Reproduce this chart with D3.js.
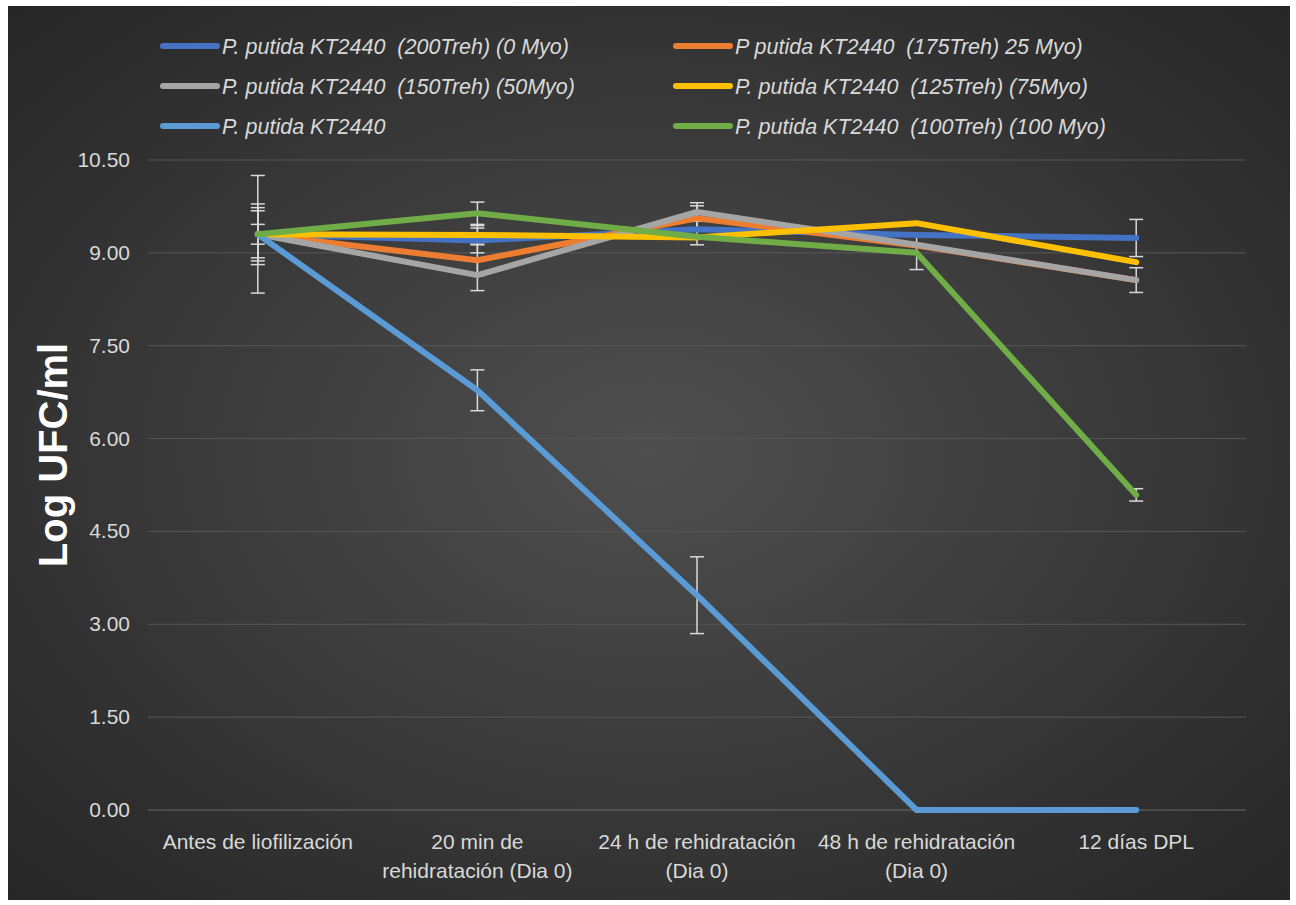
<!DOCTYPE html>
<html>
<head>
<meta charset="utf-8">
<script src="https://cdn.jsdelivr.net/npm/d3@7"></script>
<style>
  body { margin: 0; background: #fff; }
  svg text { font-family: "Liberation Sans", Arial, sans-serif; white-space: pre; }
</style>
</head>
<body>
<div id="chart"></div>
<script>
// categories on the x axis (each label split into lines)
var categories = ["Antes de liofilización", "20 min de rehidratación (Dia 0)", "24 h de rehidratación (Dia 0)", "48 h de rehidratación (Dia 0)", "12 días DPL"];
var catLines = [["Antes de liofilización"], ["20 min de", "rehidratación (Dia 0)"], ["24 h de rehidratación", "(Dia 0)"], ["48 h de rehidratación", "(Dia 0)"], ["12 días DPL"]];

var seriesNames = [
  "P. putida KT2440  (200Treh) (0 Myo)",
  "P putida KT2440  (175Treh) 25 Myo)",
  "P. putida KT2440  (150Treh) (50Myo)",
  "P. putida KT2440  (125Treh) (75Myo)",
  "P. putida KT2440",
  "P. putida KT2440  (100Treh) (100 Myo)"
];
var seriesColors = ["#4472C4", "#ED7D31", "#A5A5A5", "#FFC000", "#5B9BD5", "#70AD47"];

// values, log UFC/ml
var treh200 = [9.3, 9.2, 9.38, 9.29, 9.24];
var treh175 = [9.3, 8.88, 9.56, 9.12, 8.56];
var treh150 = [9.3, 8.64, 9.66, 9.13, 8.56];
var treh125 = [9.3, 9.29, 9.25, 9.48, 8.85];
var kt2440  = [9.3, 6.78, 3.47, 0, 0];
var treh100 = [9.3, 9.64, 9.26, 9.0, 5.09];

// error bar half widths
var err200 = [0.16, 0.2, 0.25, 0, 0.3];
var err175 = [0.38, 0.25, 0.2, 0, 0];
var err150 = [0.43, 0.25, 0.15, 0, 0.2];
var err125 = [0.49, 0.15, 0, 0, 0];
var errKT   = [0.95, 0.33, 0.62, 0, 0];
var err100 = [0, 0.18, 0, 0.27, 0.1];

var yTicks = [0, 1.5, 3, 4.5, 6, 7.5, 9, 10.5];

var allValues = [treh200, treh175, treh150, treh125, kt2440, treh100];
var allErrors = [err200, err175, err150, err125, errKT, err100];

var W = 1296, H = 905;
var svg = d3.select("#chart").append("svg")
  .attr("width", W).attr("height", H);

var defs = svg.append("defs");
var grad = defs.append("radialGradient").attr("id", "bg")
  .attr("cx", "50%").attr("cy", "50%").attr("r", "70%");
grad.append("stop").attr("offset", "0%").attr("stop-color", "#4f4f4f");
grad.append("stop").attr("offset", "100%").attr("stop-color", "#262626");

svg.append("rect").attr("x", 8).attr("y", 6).attr("width", 1282).attr("height", 894)
  .attr("fill", "url(#bg)");

var x = d3.scaleBand().domain(categories).range([148, 1246]);
var y = d3.scaleLinear().domain([0, 10.5]).range([810, 160]);

// grid
svg.append("g").selectAll("line").data(yTicks).join("line")
  .attr("x1", 148).attr("x2", 1246)
  .attr("y1", function(d){ return y(d); }).attr("y2", function(d){ return y(d); })
  .attr("stroke", function(d){ return d === 0 ? "#6a6a6a" : "#575757"; })
  .attr("stroke-width", 1);

// y tick labels
svg.append("g").selectAll("text").data(yTicks).join("text")
  .attr("x", 130).attr("y", function(d){ return y(d) + 7; })
  .attr("text-anchor", "end")
  .attr("fill", "#d9d9d9").attr("font-size", 21)
  .text(function(d){ return d.toFixed(2); });

// x labels
var xl = svg.append("g").selectAll("text").data(categories).join("text")
  .attr("x", function(d){ return x(d) + x.bandwidth() / 2; })
  .attr("y", 849)
  .attr("text-anchor", "middle")
  .attr("fill", "#d9d9d9").attr("font-size", 21);
xl.each(function(d, i){
  var t = d3.select(this);
  catLines[i].forEach(function(s, j){
    t.append("tspan").attr("x", x(d) + x.bandwidth() / 2).attr("dy", j === 0 ? 0 : 29).text(s);
  });
});

// y title
svg.append("text")
  .attr("transform", "translate(67,455) rotate(-90)")
  .attr("text-anchor", "middle")
  .attr("fill", "#ffffff").attr("font-size", 40).attr("font-weight", "bold")
  .text("Log UFC/ml");

// error bars
var eb = svg.append("g");
allValues.forEach(function(vals, s){
  vals.forEach(function(v, i){
    var e = allErrors[s][i];
    if (!e) return;
    var cx = x(categories[i]) + x.bandwidth() / 2;
    eb.append("line").attr("x1", cx).attr("x2", cx)
      .attr("y1", y(v + e)).attr("y2", y(v - e))
      .attr("stroke", "#d9d9d9").attr("stroke-width", 1.5);
    [v + e, v - e].forEach(function(c){
      eb.append("line").attr("x1", cx - 7).attr("x2", cx + 7)
        .attr("y1", y(c)).attr("y2", y(c))
        .attr("stroke", "#d9d9d9").attr("stroke-width", 1.5);
    });
  });
});

// lines
var line = d3.line()
  .x(function(d, i){ return x(categories[i]) + x.bandwidth() / 2; })
  .y(function(d){ return y(d); });

allValues.forEach(function(vals, s){
  svg.append("path").attr("d", line(vals))
    .attr("fill", "none").attr("stroke", seriesColors[s])
    .attr("stroke-width", 6).attr("stroke-linecap", "round").attr("stroke-linejoin", "round");
});

// legend
var legX = [163, 676], legY = [46, 86, 126];
seriesNames.forEach(function(n, i){
  var lx = legX[i % 2], ly = legY[Math.floor(i / 2)];
  svg.append("line").attr("x1", lx).attr("x2", lx + 54).attr("y1", ly).attr("y2", ly)
    .attr("stroke", seriesColors[i]).attr("stroke-width", 6).attr("stroke-linecap", "round");
  svg.append("text").attr("x", lx + 59).attr("y", ly + 8)
    .attr("fill", "#d9d9d9").attr("font-size", 21.5).attr("font-style", "italic")
    .text(n);
});
</script>
</body>
</html>
